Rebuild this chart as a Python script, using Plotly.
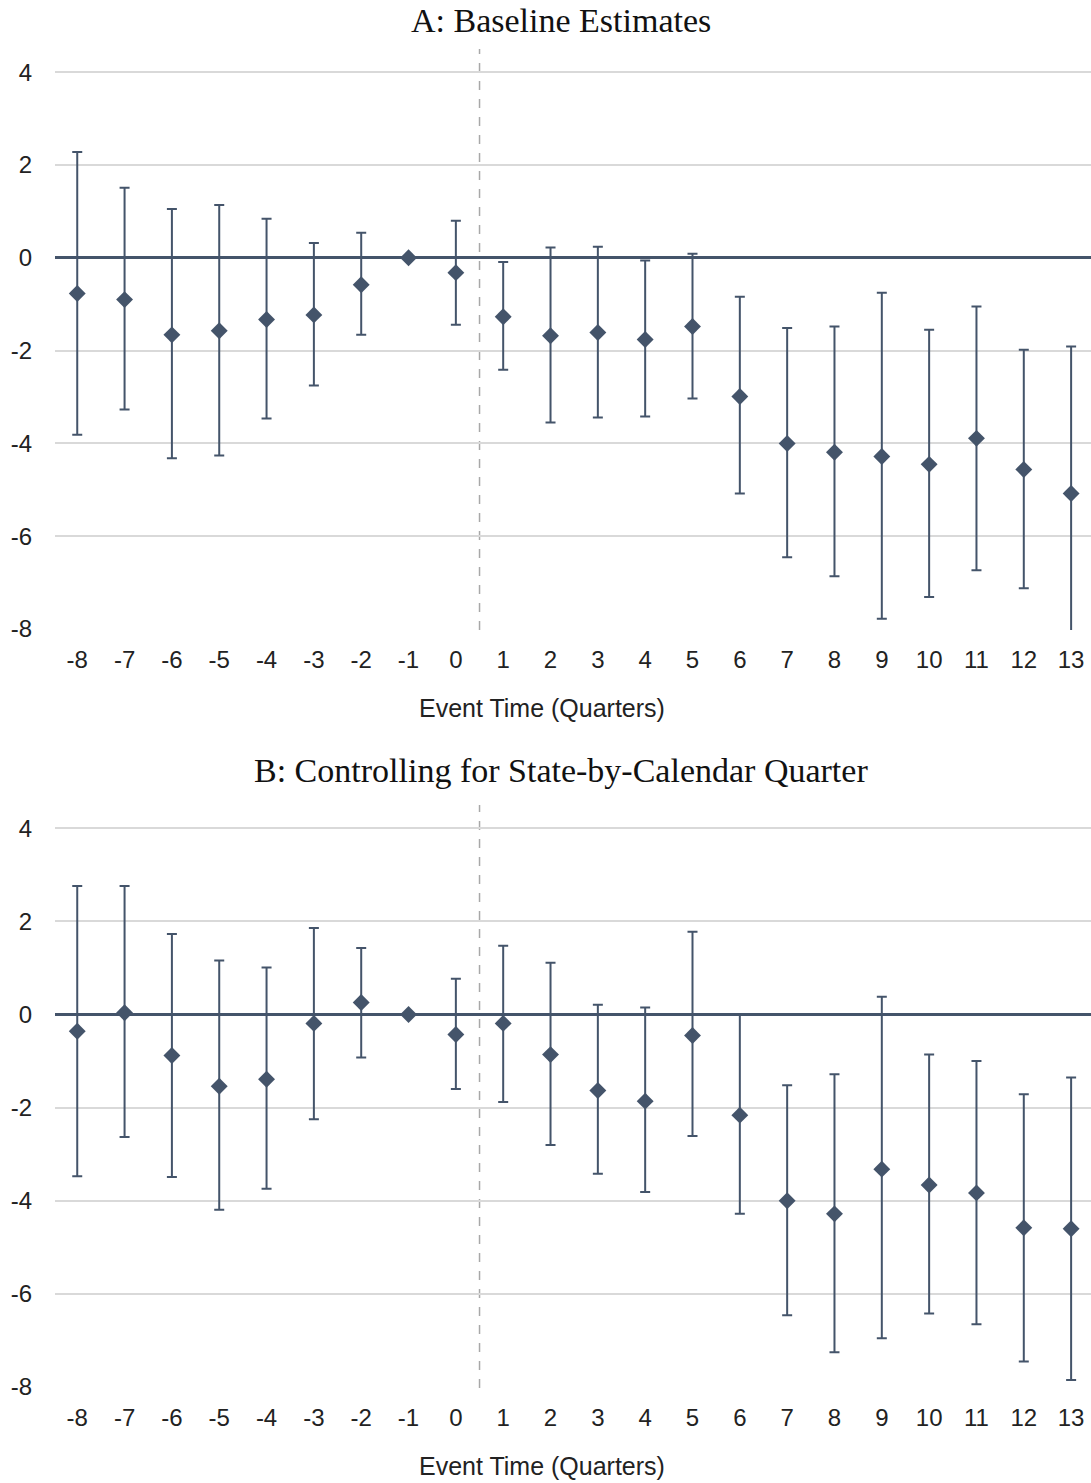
import plotly.graph_objects as go

event_time = list(range(-8, 14))
tick_labels = [str(t) for t in event_time]

# Panel A: Baseline Estimates
a_est = [-0.77, -0.90, -1.66, -1.57, -1.33, -1.23, -0.58, 0.0, -0.32, -1.27, -1.68,
         -1.61, -1.76, -1.48, -2.99, -4.00, -4.19, -4.28, -4.45, -3.89, -4.56, -5.08]
a_hi = [2.28, 1.51, 1.05, 1.14, 0.84, 0.32, 0.54, None, 0.80, -0.09, 0.22,
        0.24, -0.06, 0.09, -0.84, -1.51, -1.48, -0.75, -1.55, -1.05, -1.98, -1.91]
a_lo = [-3.81, -3.27, -4.32, -4.26, -3.46, -2.75, -1.66, None, -1.44, -2.41, -3.55,
        -3.44, -3.42, -3.03, -5.08, -6.45, -6.86, -7.78, -7.31, -6.73, -7.12, -8.40]

# Panel B: Controlling for State-by-Calendar Quarter
b_est = [-0.36, 0.04, -0.88, -1.54, -1.39, -0.19, 0.26, 0.0, -0.43, -0.19, -0.86,
         -1.63, -1.86, -0.45, -2.16, -4.00, -4.28, -3.32, -3.66, -3.83, -4.58, -4.60]
b_hi = [2.76, 2.76, 1.73, 1.16, 1.01, 1.86, 1.43, None, 0.77, 1.48, 1.11,
        0.21, 0.15, 1.78, 0.00, -1.52, -1.28, 0.38, -0.86, -1.00, -1.71, -1.35]
b_lo = [-3.47, -2.63, -3.49, -4.19, -3.74, -2.25, -0.92, None, -1.60, -1.88, -2.80,
        -3.42, -3.81, -2.61, -4.28, -6.46, -7.25, -6.95, -6.42, -6.65, -7.45, -7.85]

y_ticks = [-8, -6, -4, -2, 0, 2, 4]
titles = ["A: Baseline Estimates", "B: Controlling for State-by-Calendar Quarter"]
x_title = "Event Time (Quarters)"

COL = "#44546A"
GRID = "#d9d9d9"

fig = go.Figure()


def add_panel(est, hi, lo, xa, ya):
    up = [None if h is None else h - e for h, e in zip(hi, est)]
    dn = [None if l is None else e - l for l, e in zip(lo, est)]
    fig.add_trace(go.Scatter(
        x=event_time, y=est, mode="markers",
        marker=dict(symbol="diamond", size=13, color=COL),
        error_y=dict(type="data", symmetric=False, array=up, arrayminus=dn,
                     color=COL, thickness=2, width=5),
        xaxis=xa, yaxis=ya, showlegend=False, cliponaxis=True,
    ))


add_panel(a_est, a_hi, a_lo, "x", "y")
add_panel(b_est, b_hi, b_lo, "x2", "y2")

tick_font = dict(family="Liberation Sans, Arial", size=24, color="#222222")
xcommon = dict(range=[-8.47, 13.42], tickmode="array", tickvals=event_time,
               ticktext=tick_labels, showgrid=False, zeroline=False, showline=False,
               ticks="", ticklabelstandoff=13, tickfont=tick_font)
ycommon = dict(range=[-8.02, 4.5], tickmode="array", tickvals=y_ticks,
               ticktext=[str(v) for v in y_ticks],
               showgrid=True, gridcolor=GRID, gridwidth=1.5,
               zeroline=True, zerolinecolor=COL, zerolinewidth=2.5,
               showline=False, ticks="", ticklabelstandoff=22, tickfont=tick_font)

fig.update_layout(
    width=1091, height=1483,
    margin=dict(l=55, r=0, t=49, b=95),
    paper_bgcolor="white", plot_bgcolor="white",
    hovermode=False,
    xaxis=dict(domain=[0, 1], anchor="y", **xcommon),
    yaxis=dict(domain=[0.5661, 1], anchor="x", **ycommon),
    xaxis2=dict(domain=[0, 1], anchor="y2", **xcommon),
    yaxis2=dict(domain=[0, 0.4354], anchor="x2", **ycommon),
)

for yref in ["y domain", "y2 domain"]:
    xref = "x" if yref.startswith("y ") else "x2"
    fig.add_shape(type="line", xref=xref, yref=yref, x0=0.5, x1=0.5, y0=0, y1=1,
                  line=dict(color="#a8a8a8", width=1.5, dash="dash"), layer="below")

ann_font_serif = dict(family="Liberation Serif, Times New Roman", size=34, color="#111111")
ann_font_sans = dict(family="Liberation Sans, Arial", size=25, color="#222222")
fig.add_annotation(text=titles[0], xref="paper", yref="paper", x=0.4884, y=1.0210,
                   xanchor="center", yanchor="middle", showarrow=False, font=ann_font_serif)
fig.add_annotation(text=titles[1], xref="paper", yref="paper", x=0.4884, y=0.4615,
                   xanchor="center", yanchor="middle", showarrow=False, font=ann_font_serif)
fig.add_annotation(text=x_title, xref="paper", yref="paper", x=0.470, y=0.5078,
                   xanchor="center", yanchor="middle", showarrow=False, font=ann_font_sans)
fig.add_annotation(text=x_title, xref="paper", yref="paper", x=0.470, y=-0.0583,
                   xanchor="center", yanchor="middle", showarrow=False, font=ann_font_sans)

# remove the default 8px page margin so the figure fills the window exactly
fig.write_html("out.html",
               config={"displayModeBar": False},
               post_script="document.body.style.margin='0';document.body.style.padding='0';")
